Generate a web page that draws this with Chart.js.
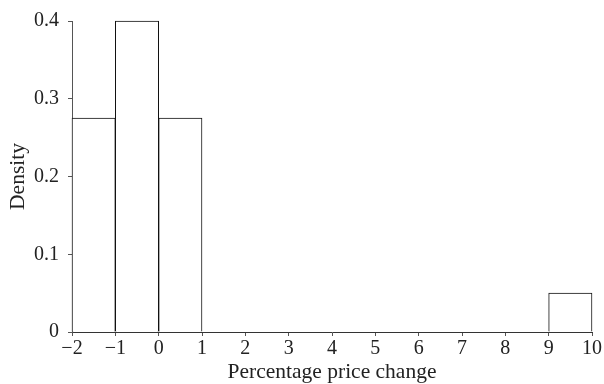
<!DOCTYPE html>
<html>
<head>
<meta charset="utf-8">
<script src="https://cdn.jsdelivr.net/npm/chart.js@4"></script>
<style>
  html, body { margin: 0; padding: 0; background: #fff; }
  canvas { display: block; }
</style>
</head>
<body>
<canvas id="histChart" width="604" height="384"></canvas>
<script>
// bin centres and density per bin (width 1)
const binCentres = [-1.5, -0.5, 0.5, 1.5, 2.5, 3.5, 4.5, 5.5, 6.5, 7.5, 8.5, 9.5];
const densities = [0.275, 0.4, 0.275, 0, 0, 0, 0, 0, 0, 0, 0, 0.05];
const xTicks = [-2, -1, 0, 1, 2, 3, 4, 5, 6, 7, 8, 9, 10];
const yTicks = [0, 0.1, 0.2, 0.3, 0.4];

const serif = 'Liberation Serif';

const ctx = document.getElementById('histChart').getContext('2d');
const chart = new Chart(ctx, {
    type: 'bar',
    data: {
        datasets: [{
            label: 'Density',
            data: binCentres.map((c, i) => ({ x: c, y: densities[i] })),
            backgroundColor: '#ffffff',
            borderColor: '#111111',
            borderWidth: 1,
            borderSkipped: 'start',
            barPercentage: 1,
            categoryPercentage: 1,
            clip: false
        }]
    },
    options: {
        responsive: false,
        animation: false,
        devicePixelRatio: 1,
        layout: { padding: { top: 21, right: 12, left: 0, bottom: 0 } },
        plugins: {
            legend: { display: false },
            tooltip: { enabled: false }
        },
        scales: {
            x: {
                type: 'linear',
                offset: false,
                min: xTicks[0],
                max: xTicks[xTicks.length - 1],
                afterFit: function(scale) { scale.height = 52; },
                afterBuildTicks: function(scale) {
                    scale.ticks = xTicks.map(v => ({ value: v }));
                },
                grid: {
                    offset: false,
                    drawOnChartArea: false,
                    tickLength: 4,
                    color: '#555555'
                },
                border: { color: '#333333', width: 1 },
                ticks: {
                    color: '#222222',
                    padding: 1,
                    maxRotation: 0,
                    font: { family: serif, size: 20 },
                    callback: v => String(v).replace('-', '\u2212')
                },
                title: {
                    display: true,
                    text: 'Percentage price change',
                    color: '#222222',
                    font: { family: serif, size: 21.5 },
                    padding: { top: 0, bottom: -1 }
                }
            },
            y: {
                min: yTicks[0],
                max: yTicks[yTicks.length - 1],
                afterFit: function(scale) { scale.width = 72; },
                afterBuildTicks: function(scale) {
                    scale.ticks = yTicks.map(v => ({ value: v }));
                },
                grid: {
                    drawOnChartArea: false,
                    tickLength: 4,
                    color: '#555555'
                },
                border: { color: '#555555', width: 1 },
                ticks: {
                    color: '#222222',
                    padding: 9,
                    font: { family: serif, size: 20 },
                    callback: v => String(v)
                },
                title: {
                    display: true,
                    text: 'Density',
                    color: '#222222',
                    font: { family: serif, size: 21.5 },
                    padding: { top: 5, bottom: 0 }
                }
            }
        }
    }
});
</script>
</body>
</html>
